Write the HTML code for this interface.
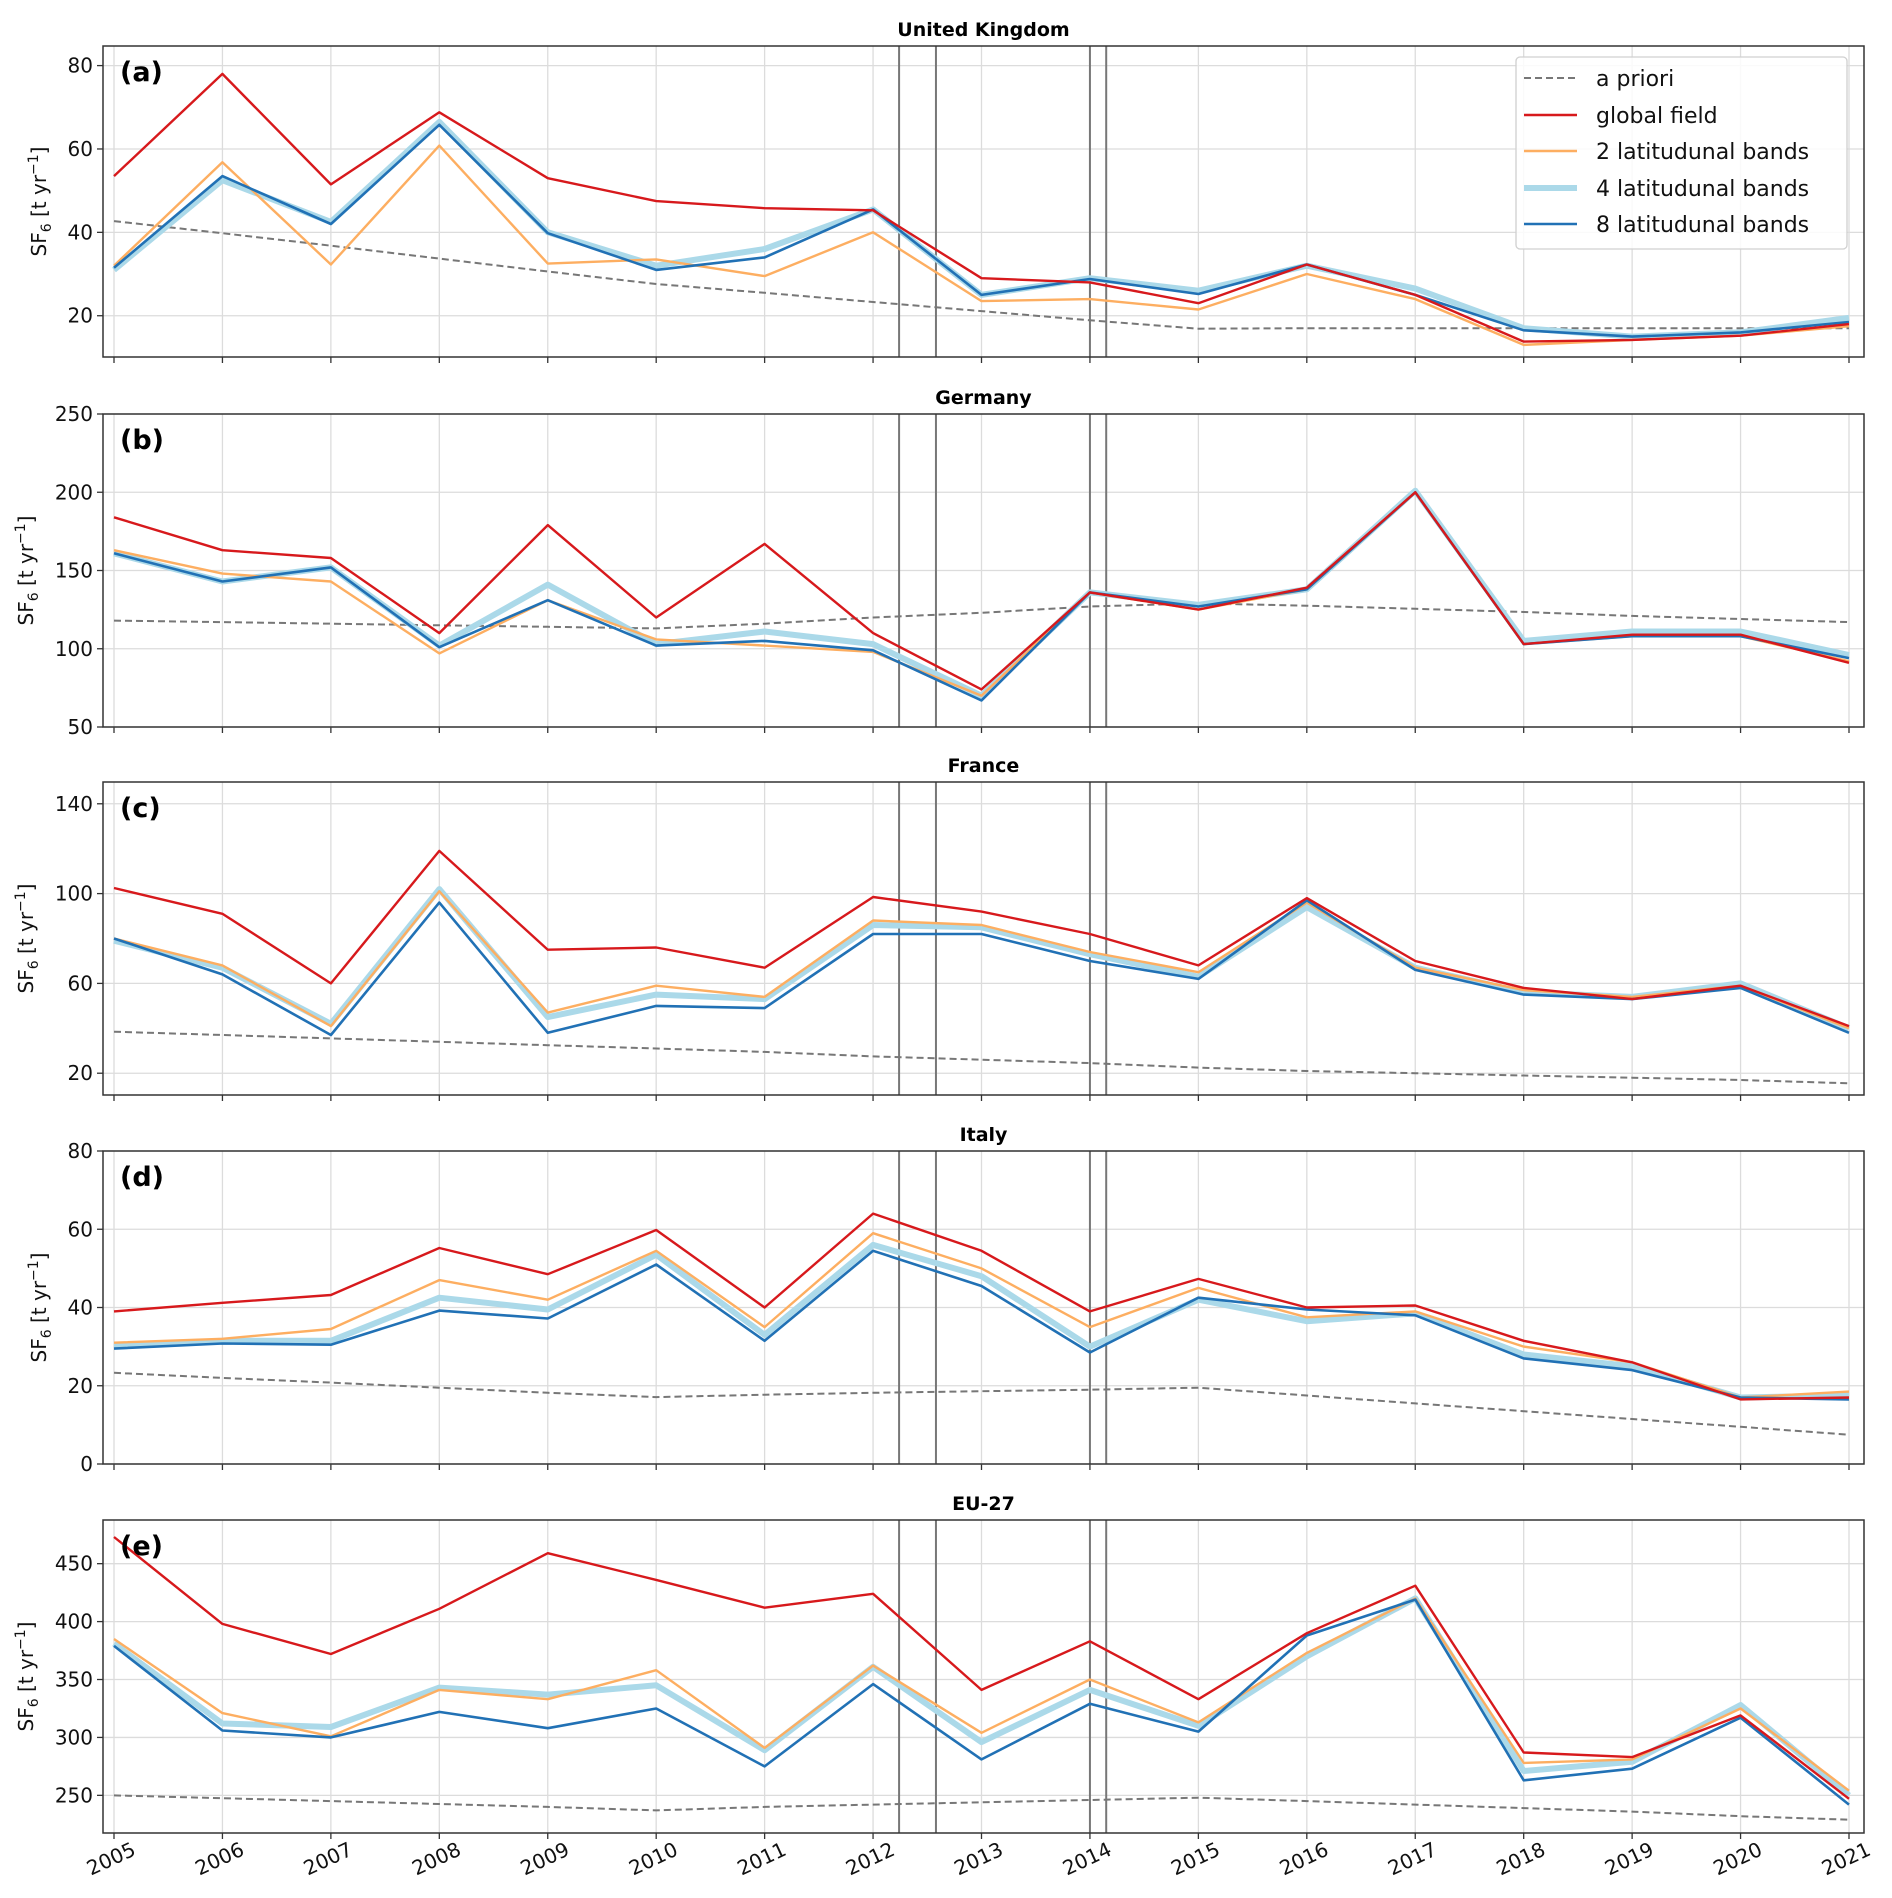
<!DOCTYPE html>
<html><head><meta charset="utf-8"><style>
html,body{margin:0;padding:0;background:#fff;}
svg{display:block;font-family:"DejaVu Sans","Liberation Sans",sans-serif;}
</style></head><body>
<svg id="chart" width="1892" height="1898" viewBox="0 0 1892 1898" xmlns="http://www.w3.org/2000/svg"></svg>
<script>
const years = [2005,2006,2007,2008,2009,2010,2011,2012,2013,2014,2015,2016,2017,2018,2019,2020,2021];
const vlines = [2012.24, 2012.58, 2014.0, 2014.15];
const seriesNames = ["a priori","global field","2 latitudunal bands","4 latitudunal bands","8 latitudunal bands"];

const ukApriori = [42.7,39.8,36.8,33.7,30.6,27.6,25.5,23.3,21.1,18.9,16.9,17,17,17,17,17,17];
const ukGlobal  = [53.5,78,51.5,68.8,53,47.5,45.8,45.3,29,28,23,32.3,25,13.8,14.2,15.2,18];
const ukBand2   = [32,56.8,32.3,60.8,32.5,33.5,29.5,40,23.5,24,21.5,30,24,13,14.2,15.2,17.5];
const ukBand4   = [31,52.5,42.5,66.5,40,32,36,45.5,25,29,26,32,26.5,17,15,16,19.5];
const ukBand8   = [31.5,53.5,42,65.8,39.8,31,34,45.5,25,28.8,25.2,32.3,25,16.5,15,16,18.5];

const deApriori = [118,117,116,115,114,113,116,120,123,127,129,127.5,125.5,123.5,121,119,117];
const deGlobal  = [184,163,158,110,179,120,167,110,74,136,125,139,200,103,109,109,91];
const deBand2   = [163,148,143,97,131,106,102,98,70,136,125,138,200,103,108,108,92];
const deBand4   = [161,143,152,102,141,103,111,103,70,136,128,138,201,105,111,111,96];
const deBand8   = [161,143,152,101,131,102,105,99,67,136,127,138,200,103,108,108,94];

const frApriori = [38.5,37,35.5,34,32.5,31,29.5,27.5,26,24.5,22.5,21,20,19,18,17,15.5];
const frGlobal  = [102.5,91,60,119,75,76,67,98.5,92,82,68,98,70,58,53,59,41];
const frBand2   = [80,68,41,101,47,59,54,88,86,74,65,96,67,57,54,59,40];
const frBand4   = [79,67,42,102,45,55,53,86,85,73,63,94,67,56,54,60,40];
const frBand8   = [80,64,37,96,38,50,49,82,82,70,62,97,66,55,53,58,38];

const itApriori = [23.3,22,20.8,19.5,18.2,17.1,17.7,18.2,18.6,19,19.5,17.5,15.5,13.5,11.5,9.5,7.5];
const itGlobal  = [39,41.2,43.2,55.2,48.5,59.8,40,64,54.5,39,47.3,40,40.5,31.5,26,16.5,17];
const itBand2   = [31,32,34.5,47,42,54.5,35,59,50,35,45,37.5,39,30,26,17,18.5];
const itBand4   = [30,31.5,31.5,42.5,39.5,53.5,33,56,48,30,42,36.5,38.5,28,25,17,17.5];
const itBand8   = [29.5,30.8,30.5,39.2,37.2,51,31.5,54.5,45.5,28.5,42.5,39.5,38,27,24,17,16.5];

const euApriori = [250,247.5,245,242.5,240,237,240,242,244,246,248,245,242,239,236,232,229];
const euGlobal  = [473,398,372,411,459,436,412,424,341,383,333,390,431,287,283,319,247];
const euBand2   = [385,321,301,341,333,358,291,362,304,350,313,373,420,278,281,325,254];
const euBand4   = [381,312,309,343,337,345,289,361,296,341,310,370,420,271,279,328,250];
const euBand8   = [379,306,300,322,308,325,275,346,281,329,305,388,419,263,273,317,242];

const panelTitles = ["United Kingdom","Germany","France","Italy","EU-27"];
const panelLetters = ["(a)","(b)","(c)","(d)","(e)"];
const ukTicks = [20,40,60,80];
const deTicks = [50,100,150,200,250];
const frTicks = [20,60,100,140];
const itTicks = [0,20,40,60,80];
const euTicks = [250,300,350,400,450];

const NS = "http://www.w3.org/2000/svg";
const svg = document.getElementById("chart");
function mk(tag, attrs, parent){ const e=document.createElementNS(NS,tag); for(const k in attrs) e.setAttribute(k,attrs[k]); (parent||svg).appendChild(e); return e; }

const L=103, R=1864;
const panels = [
 {key:"uk", top:46, bot:357, ymin:10.1, ymax:84.7, ticks:ukTicks, data:[ukApriori,ukGlobal,ukBand2,ukBand4,ukBand8], ylx:40},
 {key:"germany", top:414, bot:727, ymin:50, ymax:250, ticks:deTicks, data:[deApriori,deGlobal,deBand2,deBand4,deBand8], ylx:27},
 {key:"france", top:782, bot:1095, ymin:10.3, ymax:149.7, ticks:frTicks, data:[frApriori,frGlobal,frBand2,frBand4,frBand8], ylx:27},
 {key:"italy", top:1151, bot:1464, ymin:0, ymax:80, ticks:itTicks, data:[itApriori,itGlobal,itBand2,itBand4,itBand8], ylx:40},
 {key:"eu27", top:1520, bot:1833, ymin:217.5, ymax:487.7, ticks:euTicks, data:[euApriori,euGlobal,euBand2,euBand4,euBand8], ylx:27}
];
const styles = [
 {stroke:"#777777", w:2, dash:"7,4"},
 {stroke:"#d7191c", w:2.4},
 {stroke:"#fdae61", w:2.4},
 {stroke:"#abd9e9", w:6},
 {stroke:"#2171b5", w:2.6}
];
const seriesKeys = ["a-priori","global-field","2-bands","4-bands","8-bands"];
function xs(yr){ return L+11 + (yr-2005)*(1849-114)/16; }

panels.forEach((p,pi)=>{
  const ys = v => p.bot - (v-p.ymin)/(p.ymax-p.ymin)*(p.bot-p.top);
  const g = mk("g",{});
  
  
  years.forEach(yr=>{ mk("line",{x1:xs(yr),x2:xs(yr),y1:p.top,y2:p.bot,stroke:"#dcdcdc","stroke-width":1.3},g);
    const t=mk("line",{x1:xs(yr),x2:xs(yr),y1:p.bot,y2:p.bot+6,stroke:"#333","stroke-width":1.3},g);
      });
  p.ticks.forEach(v=>{ const y=ys(v);
    mk("line",{x1:L,x2:R,y1:y,y2:y,stroke:"#dcdcdc","stroke-width":1.3},g);
    mk("line",{x1:L-6,x2:L,y1:y,y2:y,stroke:"#333","stroke-width":1.3},g);
    const tl=mk("text",{x:L-10,y:y+7,"text-anchor":"end","font-size":20,fill:"#111"},g); tl.textContent=v;
      });
  vlines.forEach(v=>{ const l=mk("line",{x1:xs(v),x2:xs(v),y1:p.top,y2:p.bot,stroke:"#777","stroke-width":2},g);
      });
  [0,3,2,4,1].forEach(si=>{
    const st=styles[si];
    const pts = p.data[si].map((v,i)=>xs(years[i]).toFixed(1)+","+ys(v).toFixed(1)).join(" ");
    const a={points:pts,fill:"none",stroke:st.stroke,"stroke-width":st.w,"stroke-linejoin":"round"};
    if(st.dash) a["stroke-dasharray"]=st.dash;
    const pl=mk("polyline",a,g);
    
    
  });
  const fr=mk("rect",{x:L,y:p.top,width:R-L,height:p.bot-p.top,fill:"none",stroke:"#333","stroke-width":1.5},g);
   
  const ti=mk("text",{x:(L+R)/2,y:p.top-10,"text-anchor":"middle","font-size":19,"font-weight":"bold",fill:"#000"},g);
  ti.textContent=panelTitles[pi];
   
  const lt=mk("text",{x:120,y:p.top+35,"font-size":27,"font-weight":"bold",fill:"#000"},g);
  lt.textContent=panelLetters[pi];
   
  const cy=(p.top+p.bot)/2;
  const yl=mk("text",{x:0,y:0,"font-size":20,fill:"#111","text-anchor":"middle",transform:`translate(${p.ylx+6},${cy}) rotate(-90)`},g);
  yl.innerHTML='SF<tspan font-size="14" dy="5">6</tspan><tspan dy="-5"> [t yr</tspan><tspan font-size="14" dy="-8">−1</tspan><tspan dy="8">]</tspan>';
   
  if(pi===4){
    years.forEach(yr=>{
      const t=mk("text",{x:0,y:0,"font-size":20,fill:"#111","text-anchor":"middle",transform:`translate(${xs(yr)},${p.bot+32}) rotate(-25)`},g);
      t.textContent=yr;
       
    });
  }
});
const lg=mk("g",{});


mk("rect",{x:1516,y:57,width:331,height:192,rx:4,fill:"#fff","fill-opacity":0.85,stroke:"#d0d0d0","stroke-width":1.3},lg);
const rowY=[78,115,151,188,224];
seriesNames.forEach((n,i)=>{
  const st=styles[i];
  const a={x1:1524,x2:1577,y1:rowY[i],y2:rowY[i],stroke:st.stroke,"stroke-width":st.w};
  if(st.dash) a["stroke-dasharray"]=st.dash;
  mk("line",a,lg);
  const t=mk("text",{x:1596,y:rowY[i]+8,"font-size":22,fill:"#111"},lg);
  t.textContent=n;
  
  
});
</script>
</body></html>
